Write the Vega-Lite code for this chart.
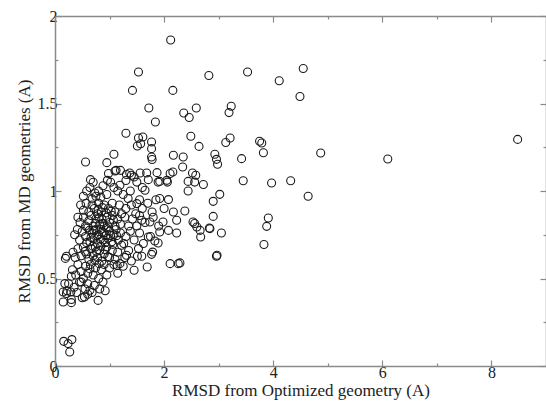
{
  "$schema": "https://vega.github.io/schema/vega-lite/v6.json",
  "width": 491,
  "height": 350,
  "autosize": "none",
  "padding": {"left": 55, "top": 16, "right": 0, "bottom": 38},
  "background": "white",
  "data": {
    "values": [
      {"opt": 8.48, "md": 1.295}, {"opt": 6.10, "md": 1.183}, {"opt": 4.87, "md": 1.217}, {"opt": 4.64, "md": 0.97},
      {"opt": 4.55, "md": 1.70}, {"opt": 4.49, "md": 1.54}, {"opt": 4.11, "md": 1.63}, {"opt": 3.53, "md": 1.68},
      {"opt": 2.82, "md": 1.66}, {"opt": 2.12, "md": 1.863}, {"opt": 1.53, "md": 1.68}, {"opt": 1.42, "md": 1.575},
      {"opt": 2.16, "md": 1.575}, {"opt": 1.72, "md": 1.474}, {"opt": 1.84, "md": 1.394}, {"opt": 2.36, "md": 1.446},
      {"opt": 2.46, "md": 1.42}, {"opt": 2.59, "md": 1.474}, {"opt": 3.23, "md": 1.484}, {"opt": 3.19, "md": 1.448},
      {"opt": 1.30, "md": 1.33}, {"opt": 1.53, "md": 1.303}, {"opt": 1.61, "md": 1.309}, {"opt": 1.51, "md": 1.257},
      {"opt": 1.57, "md": 1.27}, {"opt": 1.77, "md": 1.28}, {"opt": 1.77, "md": 1.242}, {"opt": 1.77, "md": 1.194},
      {"opt": 1.78, "md": 1.18}, {"opt": 2.49, "md": 1.313}, {"opt": 2.64, "md": 1.255}, {"opt": 3.21, "md": 1.303},
      {"opt": 3.13, "md": 1.277}, {"opt": 3.75, "md": 1.284}, {"opt": 3.79, "md": 1.274}, {"opt": 3.82, "md": 1.219},
      {"opt": 2.17, "md": 1.204}, {"opt": 2.35, "md": 1.194}, {"opt": 2.34, "md": 1.137}, {"opt": 2.93, "md": 1.21},
      {"opt": 2.96, "md": 1.181}, {"opt": 2.98, "md": 1.153}, {"opt": 3.42, "md": 1.185}, {"opt": 3.45, "md": 1.059},
      {"opt": 3.97, "md": 1.046}, {"opt": 4.32, "md": 1.059}, {"opt": 3.02, "md": 0.981}, {"opt": 2.52, "md": 1.103},
      {"opt": 2.58, "md": 1.09}, {"opt": 2.56, "md": 1.051}, {"opt": 2.72, "md": 1.037}, {"opt": 2.44, "md": 1.055},
      {"opt": 2.44, "md": 1.0}, {"opt": 2.16, "md": 1.109}, {"opt": 2.05, "md": 1.061}, {"opt": 1.87, "md": 1.105},
      {"opt": 1.92, "md": 1.055}, {"opt": 1.68, "md": 1.103}, {"opt": 2.90, "md": 0.941}, {"opt": 2.38, "md": 0.886},
      {"opt": 2.90, "md": 0.855}, {"opt": 3.91, "md": 0.846}, {"opt": 3.88, "md": 0.798}, {"opt": 2.56, "md": 0.814},
      {"opt": 2.60, "md": 0.794}, {"opt": 2.66, "md": 0.775}, {"opt": 2.67, "md": 0.737}, {"opt": 2.83, "md": 0.789},
      {"opt": 3.05, "md": 0.76}, {"opt": 3.83, "md": 0.694}, {"opt": 2.97, "md": 0.633}, {"opt": 2.29, "md": 0.589},
      {"opt": 2.11, "md": 0.585}, {"opt": 2.26, "md": 0.585}, {"opt": 1.45, "md": 0.547}, {"opt": 1.69, "md": 0.566},
      {"opt": 1.77, "md": 0.638}, {"opt": 1.59, "md": 0.627}, {"opt": 1.51, "md": 0.627}, {"opt": 1.31, "md": 0.633},
      {"opt": 1.19, "md": 0.585}, {"opt": 1.14, "md": 0.575},
      {"opt": 0.21, "md": 0.627}, {"opt": 0.15, "md": 0.423}, {"opt": 0.15, "md": 0.366}, {"opt": 0.30, "md": 0.362},
      {"opt": 0.29, "md": 0.423}, {"opt": 0.18, "md": 0.471}, {"opt": 0.30, "md": 0.513}, {"opt": 0.16, "md": 0.141},
      {"opt": 0.24, "md": 0.128}, {"opt": 0.31, "md": 0.151}, {"opt": 0.27, "md": 0.08}, {"opt": 0.54, "md": 0.394},
      {"opt": 0.79, "md": 0.375}, {"opt": 0.64, "md": 0.433}, {"opt": 0.48, "md": 0.48}, {"opt": 0.21, "md": 0.414},
      {"opt": 0.19, "md": 0.615},
      {"opt": 0.56, "md": 1.166}, {"opt": 0.95, "md": 1.162}, {"opt": 1.08, "md": 1.21}, {"opt": 0.65, "md": 1.065},
      {"opt": 0.96, "md": 1.061}, {"opt": 0.73, "md": 0.989}, {"opt": 1.12, "md": 1.118}, {"opt": 1.20, "md": 1.118},
      {"opt": 1.37, "md": 1.103}, {"opt": 1.40, "md": 1.09}, {"opt": 1.19, "md": 1.033}, {"opt": 1.50, "md": 1.051},
      {"opt": 1.71, "md": 1.065}, {"opt": 1.89, "md": 1.051}, {"opt": 2.06, "md": 1.051}, {"opt": 1.65, "md": 1.004},
      {"opt": 1.92, "md": 0.957}, {"opt": 2.08, "md": 0.951}, {"opt": 2.17, "md": 0.88}, {"opt": 2.23, "md": 0.833},
      {"opt": 1.98, "md": 0.823}, {"opt": 1.74, "md": 0.823}, {"opt": 1.59, "md": 0.833}, {"opt": 1.50, "md": 0.928},
      {"opt": 1.34, "md": 0.957}, {"opt": 2.08, "md": 0.775}, {"opt": 2.23, "md": 0.76}, {"opt": 1.92, "md": 0.766},
      {"opt": 1.71, "md": 0.737}, {"opt": 1.83, "md": 0.714}, {"opt": 1.89, "md": 0.703}, {"opt": 1.79, "md": 0.651},
      {"opt": 1.53, "md": 0.671}, {"opt": 2.53, "md": 0.823}, {"opt": 2.84, "md": 0.785}, {"opt": 2.96, "md": 0.627},
      {"opt": 1.31, "md": 1.094}, {"opt": 1.10, "md": 1.114}, {"opt": 1.56, "md": 1.103}, {"opt": 2.11, "md": 1.10},
      {"opt": 0.58, "md": 1.0}, {"opt": 0.64, "md": 1.02}, {"opt": 0.70, "md": 1.05}, {"opt": 0.80, "md": 1.0},
      {"opt": 0.88, "md": 1.03}, {"opt": 0.95, "md": 0.98}, {"opt": 1.02, "md": 1.05}, {"opt": 1.08, "md": 1.02},
      {"opt": 1.15, "md": 1.0}, {"opt": 1.25, "md": 0.98}, {"opt": 1.30, "md": 1.06}, {"opt": 1.38, "md": 1.0},
      {"opt": 0.52, "md": 0.97}, {"opt": 0.75, "md": 0.97}, {"opt": 0.98, "md": 1.1},
      {"opt": 1.45, "md": 1.08}, {"opt": 1.55, "md": 0.95}, {"opt": 1.60, "md": 1.02},
      {"opt": 0.47, "md": 0.92}, {"opt": 0.52, "md": 0.89}, {"opt": 0.57, "md": 0.93}, {"opt": 0.62, "md": 0.88},
      {"opt": 0.68, "md": 0.92}, {"opt": 0.72, "md": 0.90}, {"opt": 0.80, "md": 0.93}, {"opt": 0.85, "md": 0.88},
      {"opt": 0.90, "md": 0.92}, {"opt": 0.98, "md": 0.90}, {"opt": 1.05, "md": 0.93}, {"opt": 1.10, "md": 0.88},
      {"opt": 1.18, "md": 0.92}, {"opt": 1.22, "md": 0.87}, {"opt": 1.30, "md": 0.90}, {"opt": 1.40, "md": 0.92},
      {"opt": 1.48, "md": 0.87}, {"opt": 1.60, "md": 0.90}, {"opt": 1.70, "md": 0.93}, {"opt": 1.78, "md": 0.88},
      {"opt": 1.85, "md": 0.95}, {"opt": 2.00, "md": 0.90},
      {"opt": 0.42, "md": 0.85}, {"opt": 0.46, "md": 0.82}, {"opt": 0.52, "md": 0.85}, {"opt": 0.56, "md": 0.80},
      {"opt": 0.62, "md": 0.83}, {"opt": 0.66, "md": 0.86}, {"opt": 0.70, "md": 0.80}, {"opt": 0.75, "md": 0.84},
      {"opt": 0.78, "md": 0.87}, {"opt": 0.82, "md": 0.81}, {"opt": 0.86, "md": 0.84}, {"opt": 0.90, "md": 0.80},
      {"opt": 0.95, "md": 0.85}, {"opt": 1.00, "md": 0.82}, {"opt": 1.05, "md": 0.86}, {"opt": 1.10, "md": 0.80},
      {"opt": 1.15, "md": 0.84}, {"opt": 1.20, "md": 0.81}, {"opt": 1.28, "md": 0.85}, {"opt": 1.35, "md": 0.80},
      {"opt": 1.42, "md": 0.84}, {"opt": 1.50, "md": 0.80}, {"opt": 1.55, "md": 0.86}, {"opt": 1.65, "md": 0.82},
      {"opt": 1.80, "md": 0.85}, {"opt": 1.90, "md": 0.80},
      {"opt": 0.36, "md": 0.75}, {"opt": 0.41, "md": 0.78}, {"opt": 0.45, "md": 0.72}, {"opt": 0.50, "md": 0.77},
      {"opt": 0.56, "md": 0.74}, {"opt": 0.60, "md": 0.79}, {"opt": 0.64, "md": 0.71}, {"opt": 0.68, "md": 0.76},
      {"opt": 0.72, "md": 0.73}, {"opt": 0.75, "md": 0.78}, {"opt": 0.78, "md": 0.70}, {"opt": 0.80, "md": 0.75},
      {"opt": 0.84, "md": 0.78}, {"opt": 0.88, "md": 0.72}, {"opt": 0.90, "md": 0.76}, {"opt": 0.94, "md": 0.79},
      {"opt": 0.97, "md": 0.73}, {"opt": 1.00, "md": 0.77}, {"opt": 1.04, "md": 0.71}, {"opt": 1.08, "md": 0.75},
      {"opt": 1.12, "md": 0.78}, {"opt": 1.16, "md": 0.72}, {"opt": 1.20, "md": 0.76}, {"opt": 1.26, "md": 0.70},
      {"opt": 1.30, "md": 0.74}, {"opt": 1.38, "md": 0.77}, {"opt": 1.45, "md": 0.72}, {"opt": 1.55, "md": 0.76},
      {"opt": 1.62, "md": 0.70}, {"opt": 1.75, "md": 0.74},
      {"opt": 0.33, "md": 0.65}, {"opt": 0.37, "md": 0.62}, {"opt": 0.42, "md": 0.67}, {"opt": 0.48, "md": 0.63},
      {"opt": 0.52, "md": 0.68}, {"opt": 0.58, "md": 0.64}, {"opt": 0.62, "md": 0.61}, {"opt": 0.66, "md": 0.67},
      {"opt": 0.70, "md": 0.63}, {"opt": 0.74, "md": 0.68}, {"opt": 0.78, "md": 0.62}, {"opt": 0.82, "md": 0.66},
      {"opt": 0.86, "md": 0.60}, {"opt": 0.90, "md": 0.64}, {"opt": 0.95, "md": 0.68}, {"opt": 1.00, "md": 0.62},
      {"opt": 1.05, "md": 0.66}, {"opt": 1.10, "md": 0.61}, {"opt": 1.15, "md": 0.65}, {"opt": 1.22, "md": 0.69},
      {"opt": 1.28, "md": 0.62}, {"opt": 1.35, "md": 0.66}, {"opt": 1.40, "md": 0.60},
      {"opt": 0.32, "md": 0.55}, {"opt": 0.38, "md": 0.52}, {"opt": 0.42, "md": 0.58}, {"opt": 0.48, "md": 0.54},
      {"opt": 0.52, "md": 0.50}, {"opt": 0.56, "md": 0.57}, {"opt": 0.60, "md": 0.53}, {"opt": 0.65, "md": 0.58},
      {"opt": 0.70, "md": 0.52}, {"opt": 0.74, "md": 0.56}, {"opt": 0.80, "md": 0.50}, {"opt": 0.85, "md": 0.55},
      {"opt": 0.90, "md": 0.58}, {"opt": 0.95, "md": 0.52}, {"opt": 1.00, "md": 0.56}, {"opt": 1.08, "md": 0.58},
      {"opt": 1.15, "md": 0.53}, {"opt": 1.25, "md": 0.57},
      {"opt": 0.35, "md": 0.45}, {"opt": 0.40, "md": 0.42}, {"opt": 0.45, "md": 0.48}, {"opt": 0.55, "md": 0.44},
      {"opt": 0.60, "md": 0.47}, {"opt": 0.68, "md": 0.42}, {"opt": 0.72, "md": 0.46}, {"opt": 0.82, "md": 0.44},
      {"opt": 0.88, "md": 0.48}, {"opt": 0.92, "md": 0.43}, {"opt": 0.25, "md": 0.47}, {"opt": 0.22, "md": 0.43},
      {"opt": 0.30, "md": 0.38}, {"opt": 0.60, "md": 0.41}, {"opt": 0.50, "md": 0.39},
      {"opt": 0.71, "md": 0.775}, {"opt": 0.77, "md": 0.745}, {"opt": 0.83, "md": 0.725}, {"opt": 0.86, "md": 0.765},
      {"opt": 0.92, "md": 0.705}, {"opt": 0.66, "md": 0.735}, {"opt": 0.74, "md": 0.815}, {"opt": 0.81, "md": 0.845},
      {"opt": 0.88, "md": 0.815}, {"opt": 0.93, "md": 0.745}, {"opt": 0.98, "md": 0.795}, {"opt": 1.02, "md": 0.745},
      {"opt": 0.69, "md": 0.685}, {"opt": 0.76, "md": 0.655}, {"opt": 0.84, "md": 0.685}, {"opt": 0.92, "md": 0.665},
      {"opt": 0.63, "md": 0.775}, {"opt": 0.58, "md": 0.705}, {"opt": 0.79, "md": 0.895}, {"opt": 0.87, "md": 0.905},
      {"opt": 0.94, "md": 0.875}, {"opt": 1.03, "md": 0.885}, {"opt": 1.07, "md": 0.835}, {"opt": 1.13, "md": 0.745},
      {"opt": 0.73, "md": 0.605}, {"opt": 0.81, "md": 0.585}, {"opt": 0.64, "md": 0.555}, {"opt": 0.97, "md": 0.625},
      {"opt": 1.06, "md": 0.695}, {"opt": 0.55, "md": 0.655}, {"opt": 0.68, "md": 0.955}, {"opt": 0.84, "md": 0.965}
    ]
  },
  "layer": [
    {
      "mark": {"type": "point", "shape": "circle", "filled": false, "size": 64, "strokeWidth": 1.1, "color": "#1a1a1a", "opacity": 1},
      "encoding": {
        "x": {"field": "opt", "type": "quantitative", "scale": {"domain": [0, 9], "nice": false, "zero": false},
              "axis": {"orient": "bottom", "values": [0, 2, 4, 6, 8], "format": "~g", "tickSize": -6, "labelPadding": 4, "title": "RMSD from Optimized geometry (A)", "titlePadding": 2}},
        "y": {"field": "md", "type": "quantitative", "scale": {"domain": [0, 2], "nice": false, "zero": false},
              "axis": {"orient": "left", "values": [0, 0.5, 1, 1.5, 2], "format": "~g", "tickSize": -6, "labelPadding": 4, "title": "RMSD from MD geometries (A)", "titlePadding": 4}}
      }
    },
    {
      "mark": {"type": "point", "opacity": 0},
      "encoding": {
        "x": {"field": "opt", "type": "quantitative", "axis": {"orient": "bottom", "values": [1, 3, 5, 7], "tickSize": -3, "labels": false, "domain": false, "title": null}},
        "y": {"field": "md", "type": "quantitative", "axis": {"orient": "left", "values": [0.25, 0.75, 1.25, 1.75], "tickSize": -3, "labels": false, "domain": false, "title": null}}
      }
    },
    {
      "mark": {"type": "point", "opacity": 0},
      "encoding": {
        "x": {"field": "opt", "type": "quantitative", "axis": {"orient": "top", "values": [0, 2, 4, 6, 8], "tickSize": -6, "labels": false, "title": null}},
        "y": {"field": "md", "type": "quantitative", "axis": {"orient": "right", "values": [0, 0.5, 1, 1.5, 2], "tickSize": -6, "labels": false, "title": null}}
      }
    },
    {
      "mark": {"type": "point", "opacity": 0},
      "encoding": {
        "x": {"field": "opt", "type": "quantitative", "axis": {"orient": "top", "values": [1, 3, 5, 7], "tickSize": -3, "labels": false, "domain": false, "title": null}},
        "y": {"field": "md", "type": "quantitative", "axis": {"orient": "right", "values": [0.25, 0.75, 1.25, 1.75], "tickSize": -3, "labels": false, "domain": false, "title": null}}
      }
    }
  ],
  "resolve": {"axis": {"x": "independent", "y": "independent"}},
  "config": {
    "view": {"stroke": null},
    "axis": {
      "grid": false,
      "labelFont": "Liberation Serif",
      "titleFont": "Liberation Serif",
      "labelFontSize": 16,
      "titleFontSize": 17,
      "titleFontWeight": "normal",
      "labelColor": "#222",
      "titleColor": "#222",
      "domainColor": "#8a8a8a",
      "domainWidth": 1.5,
      "tickColor": "#8a8a8a",
      "tickWidth": 1.2,
      "labelFlush": false,
      "labelOverlap": false
    }
  }
}
